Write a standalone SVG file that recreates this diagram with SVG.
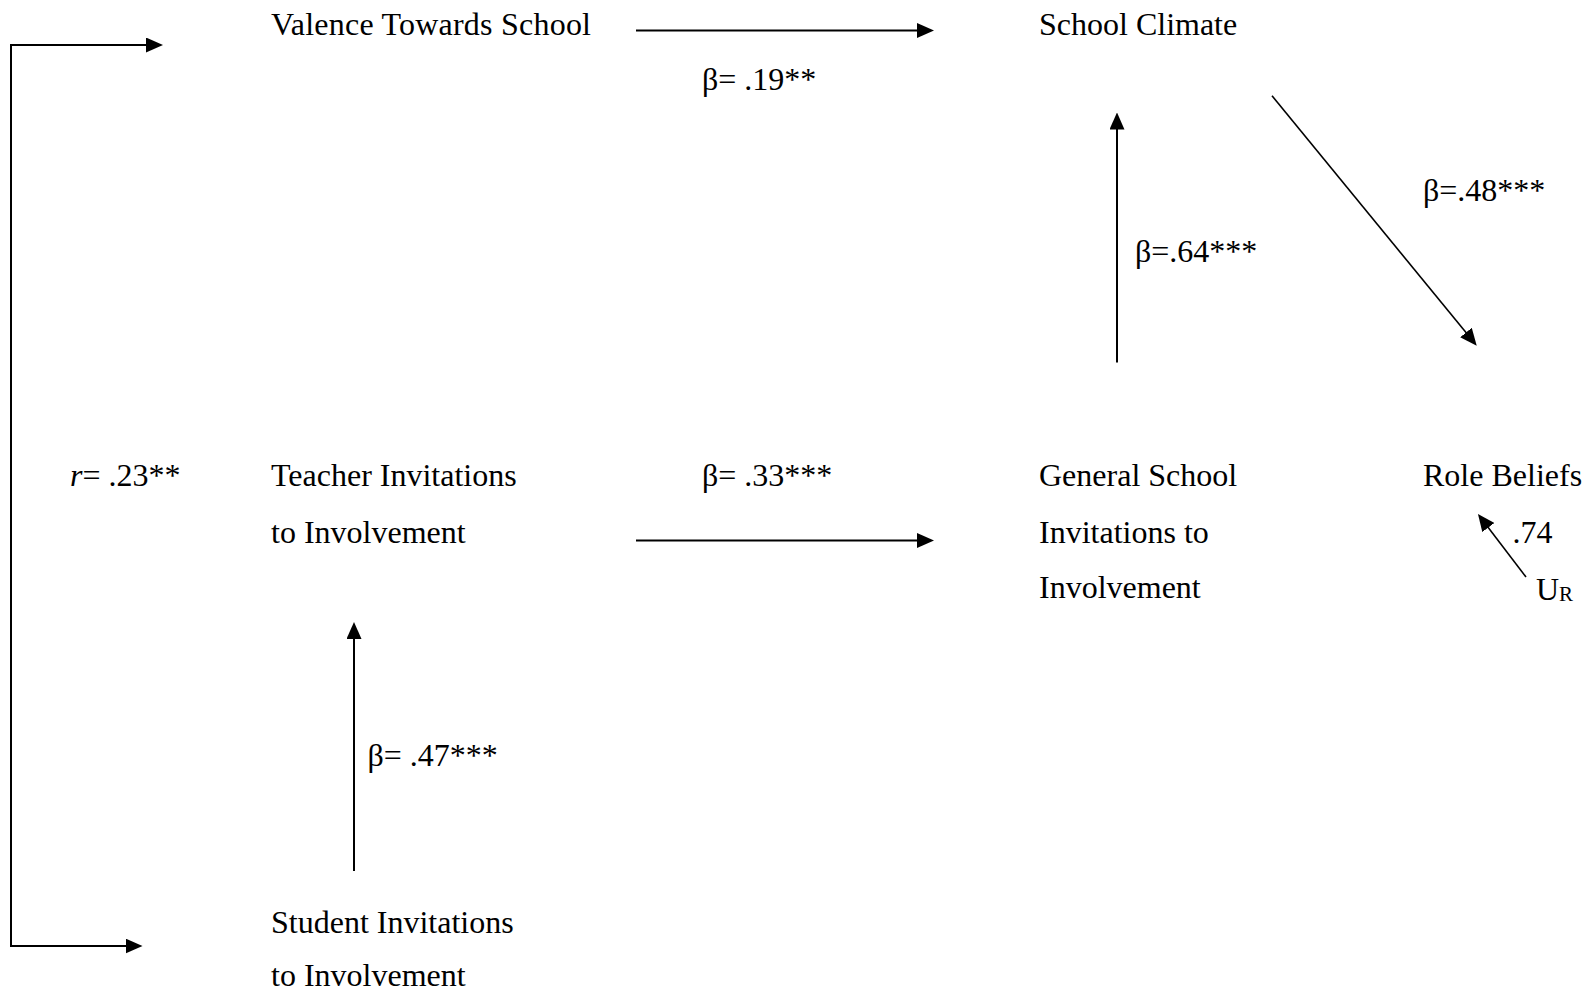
<svg xmlns="http://www.w3.org/2000/svg" width="1596" height="997" viewBox="0 0 1596 997">
<style>
text{font-family:"Liberation Serif","Times New Roman",serif;font-size:32px;fill:#000}
.c{fill:none;stroke:#000;stroke-width:2}
.d{fill:none;stroke:#000;stroke-width:1.6}
</style>
<defs>
<marker id="ah" markerUnits="userSpaceOnUse" markerWidth="17" markerHeight="15" refX="13" refY="7.5" orient="auto-start-reverse">
<path d="M0,0 L17,7.5 L0,15 z" fill="#000"/>
</marker>
</defs>
<rect width="1596" height="997" fill="#fff"/>
<g id="connectors">
<path class="c" d="M159,45 H11 V946 H138.5" marker-start="url(#ah)" marker-end="url(#ah)"/>
<path class="c" d="M636,30.5 H930" marker-end="url(#ah)"/>
<path class="c" d="M636,540.5 H930" marker-end="url(#ah)"/>
<path class="c" d="M1117,362.5 V116.5" marker-end="url(#ah)"/>
<path class="c" d="M354,871 V626" marker-end="url(#ah)"/>
<path class="d" d="M1272,95.7 L1474.2,342.6" marker-end="url(#ah)"/>
<path class="d" d="M1526,577 L1480.4,517.2" marker-end="url(#ah)"/>
<text x="702" y="89.5">β= .19**</text>
<text x="1135" y="261.6">β=.64***</text>
<text x="1423" y="200.5">β=.48***</text>
<text x="702" y="485.5">β= .33***</text>
<text x="367.5" y="765.5">β= .47***</text>
<text x="70" y="485.5"><tspan font-style="italic">r</tspan>= .23**</text>
<text x="1512.5" y="542.5">.74</text>
</g>
<g id="valence"><text x="271" y="34.6" textLength="320" lengthAdjust="spacing">Valence Towards School</text></g>
<g id="climate"><text x="1039" y="34.6">School Climate</text></g>
<g id="teacher"><text x="271" y="485.5">Teacher Invitations</text><text x="271" y="542.5">to Involvement</text></g>
<g id="general"><text x="1039" y="485.5">General School</text><text x="1039" y="542.5">Invitations to</text><text x="1039" y="597.5">Involvement</text></g>
<g id="role"><text x="1423" y="485.5">Role Beliefs</text></g>
<g id="ur"><text x="1536" y="599.5">U<tspan font-size="21" dy="1">R</tspan></text></g>
<g id="student"><text x="271" y="933.4">Student Invitations</text><text x="271" y="986">to Involvement</text></g>
</svg>
